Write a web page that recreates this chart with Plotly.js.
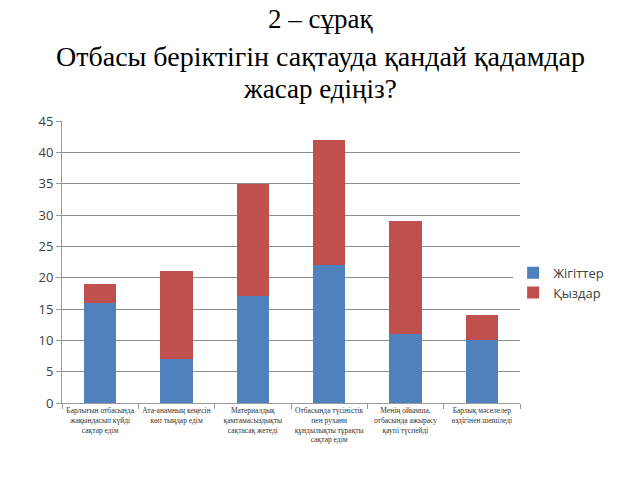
<!DOCTYPE html>
<html>
<head>
<meta charset="utf-8">
<script src="https://cdn.plot.ly/plotly-3.0.1.min.js"></script>
<style>html,body{margin:0;padding:0;background:#fff;}#chart{width:640px;height:480px;}</style>
</head>
<body>
<div id="chart"></div>
<script>
const categories = [
  "Барлығын отбасында<br>жақындасып күйді<br>сақтар едім",
  "Ата-анамның кеңесін<br>көп тыңдар едім",
  "Материалдық<br>қамтамасыздықты<br>сақтасақ жетеді",
  "Отбасында түсіністік<br>пен рухани<br>құндылықты тұрақты<br>сақтар едім",
  "Менің ойымша,<br>отбасында ажырасу<br>қаупі түспейді",
  "Барлық мәселелер<br>өздігінен шешіледі"
];
const boys = [16, 7, 17, 22, 11, 10];
const girls = [3, 14, 18, 20, 18, 4];
const seriesNames = ["Жігіттер", "Қыздар"];
const yTicks = [0, 5, 10, 15, 20, 25, 30, 35, 40, 45];

const data = [
  {type: 'bar', x: categories, y: boys, name: seriesNames[0], marker: {color: '#4F81BD'}},
  {type: 'bar', x: categories, y: girls, name: seriesNames[1], marker: {color: '#C0504D'}}
];

const serif = 'Liberation Serif';
const layout = {
  width: 640, height: 480,
  margin: {l: 62, r: 120, t: 121, b: 77},
  paper_bgcolor: '#fff', plot_bgcolor: '#fff',
  barmode: 'stack',
  bargap: 0.58,
  showlegend: true,
  legend: {x: 0.985, y: 0.515, xanchor: 'left', yanchor: 'top', font: {family: 'Open Sans, sans-serif', size: 13, color: '#404040'}, traceorder: 'normal', itemwidth: 30, tracegroupgap: 0},
  xaxis: {
    type: 'category',
    showgrid: false,
    showline: true, linecolor: '#9a9a9a', linewidth: 1,
    ticks: 'outside', tickson: 'boundaries', ticklen: 5, tickcolor: '#9a9a9a',
    tickangle: 0,
    tickfont: {family: serif, size: 7.5, color: '#333'},
    automargin: false
  },
  yaxis: {
    range: [0, 45],
    tickvals: yTicks,
    showgrid: true, gridcolor: '#8c8c8c', gridwidth: 1,
    showline: true, linecolor: '#9a9a9a', linewidth: 1,
    ticks: 'outside', ticklen: 5, tickcolor: '#9a9a9a',
    tickfont: {family: 'Open Sans, sans-serif', size: 13, color: '#404040'},
    zeroline: false,
    automargin: false
  },
  annotations: [
    {text: '2 – сұрақ', xref: 'paper', yref: 'paper', x: 0.5, y: 0, xanchor: 'center', yanchor: 'middle', showarrow: false,
     font: {family: serif, size: 27, color: '#000'}},
    {text: 'Отбасы беріктігін сақтауда қандай қадамдар', xref: 'paper', yref: 'paper', x: 0.5, y: 0, xanchor: 'center', yanchor: 'middle', showarrow: false,
     font: {family: serif, size: 28, color: '#000'}},
    {text: 'жасар едіңіз?', xref: 'paper', yref: 'paper', x: 0.5, y: 0, xanchor: 'center', yanchor: 'middle', showarrow: false,
     font: {family: serif, size: 27, color: '#000'}}
  ]
};
const plotH = 480 - 121 - 77, plotW = 640 - 62 - 120;
const centerX = (320 - 62) / plotW;
const titleY = [19, 57, 89];
layout.annotations.forEach((a, i) => { a.x = centerX; a.y = (480 - 77 - titleY[i]) / plotH; });

Plotly.newPlot('chart', data, layout, {displayModeBar: false, staticPlot: true});
</script>
</body>
</html>
